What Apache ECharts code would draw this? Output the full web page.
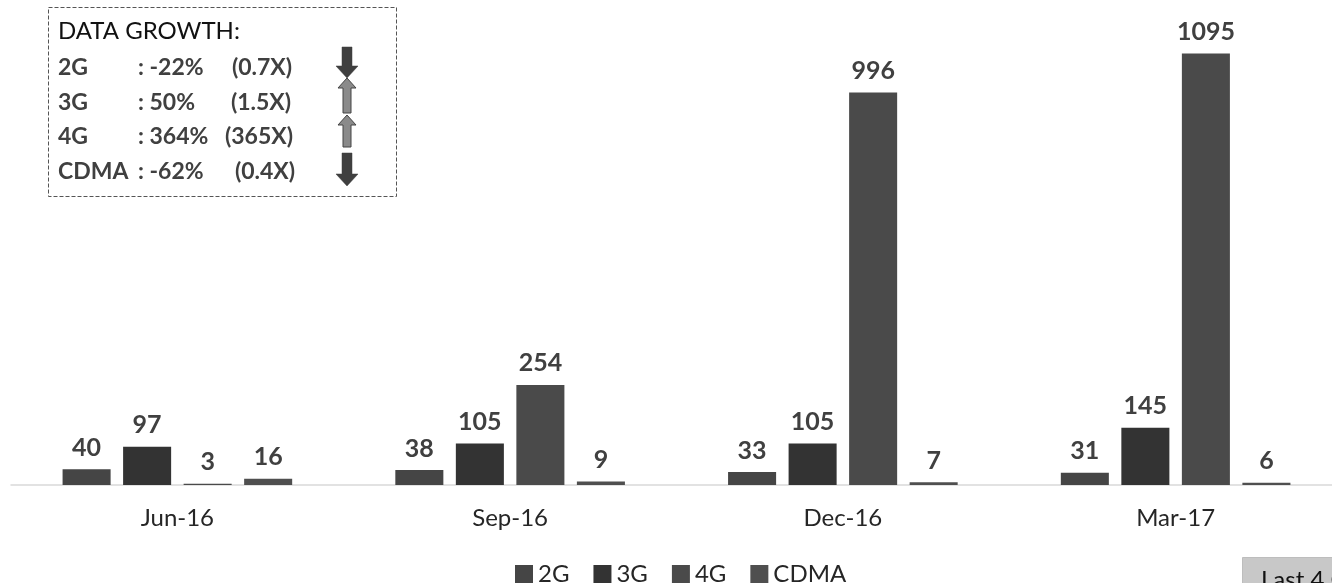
<!DOCTYPE html>
<html>
<head>
<meta charset="utf-8">
<script src="https://cdn.jsdelivr.net/npm/echarts@6/dist/echarts.min.js"></script>
<style>
html,body{margin:0;padding:0;background:#fff;}
#c{width:1332px;height:583px;}
</style>
</head>
<body>
<div id="c"></div>
<script>
var categories = ['Jun-16', 'Sep-16', 'Dec-16', 'Mar-17'];
var seriesNames = ['2G', '3G', '4G', 'CDMA'];
var values2G = [40, 38, 33, 31];
var values3G = [97, 105, 105, 145];
var values4G = [3, 254, 996, 1095];
var valuesCDMA = [16, 9, 7, 6];
var growthTitle = 'DATA GROWTH:';
var growthNames = ['2G', '3G', '4G', 'CDMA'];
var growthPct = [': -22%', ': 50%', ': 364%', ': -62%'];
var growthX = ['(0.7X)', '(1.5X)', '(365X)', '(0.4X)'];
var growthUp = [false, true, true, false];
var noteText = 'Last 4 Quarters';

// layout (not data)
var rowY = [68, 103, 137, 172];
var parenCenter = [262, 261, 259, 265];
var arrowSpans = [[47, 78], [78, 113], [115, 147], [153, 186]];

var colors = ['#454545', '#333333', '#4a4a4a', '#4f4f4f'];
var FONT = 'Lato, "Open Sans", sans-serif';
var allValues = [values2G, values3G, values4G, valuesCDMA];

var chart = echarts.init(document.getElementById('c'), null, {renderer: 'canvas'});

var series = seriesNames.map(function (n, i) {
  return {
    name: n,
    type: 'bar',
    data: allValues[i],
    barGap: '26%',
    barCategoryGap: '31%',
    itemStyle: {color: colors[i]},
    label: {
      show: true,
      position: 'top',
      distance: 9,
      fontFamily: FONT,
      fontWeight: 'bold',
      fontSize: 25,
      color: '#404040'
    }
  };
});

var graphics = [];
graphics.push({
  type: 'rect', left: 46, top: 5,
  shape: {width: 348, height: 189},
  style: {fill: 'none', stroke: '#555', lineWidth: 1, lineDash: [4, 2]}
});
graphics.push({
  type: 'text',
  style: {x: 58, y: 31, text: growthTitle, font: '24px ' + FONT, fill: '#111', verticalAlign: 'middle'}
});
growthNames.forEach(function (n, i) {
  graphics.push({
    type: 'text',
    style: {x: 58, y: rowY[i], text: n, font: 'bold 23px ' + FONT, fill: '#404040', verticalAlign: 'middle'}
  });
  graphics.push({
    type: 'text',
    style: {x: 138, y: rowY[i], text: growthPct[i], font: 'bold 23px ' + FONT, fill: '#404040', verticalAlign: 'middle'}
  });
  graphics.push({
    type: 'text',
    style: {x: parenCenter[i], y: rowY[i], text: growthX[i], font: 'bold 23px ' + FONT, fill: '#404040', verticalAlign: 'middle', align: 'center'}
  });
});
growthUp.forEach(function (up, i) {
  var cx = 347, y0 = arrowSpans[i][0], y1 = arrowSpans[i][1];
  var pts;
  if (!up) {
    var sw = 5, hw = 11, hh = 12;
    pts = [[cx - sw, y0], [cx + sw, y0], [cx + sw, y1 - hh], [cx + hw, y1 - hh], [cx, y1], [cx - hw, y1 - hh], [cx - sw, y1 - hh]];
    graphics.push({type: 'polygon', shape: {points: pts}, style: {fill: '#3f3f3f', stroke: '#3f3f3f', lineWidth: 0.5}});
  } else {
    var sw2 = 4, hw2 = 9, hh2 = 10;
    pts = [[cx, y0], [cx + hw2, y0 + hh2], [cx + sw2, y0 + hh2], [cx + sw2, y1], [cx - sw2, y1], [cx - sw2, y0 + hh2], [cx - hw2, y0 + hh2]];
    graphics.push({type: 'polygon', shape: {points: pts}, style: {fill: '#8a8a8a', stroke: '#444', lineWidth: 1}});
  }
});
graphics.push({
  type: 'rect', left: 1242, top: 557,
  shape: {width: 120, height: 40},
  style: {fill: '#c8c8c8', stroke: '#bdbdbd'}
});
graphics.push({
  type: 'text',
  style: {x: 1261, y: 580, text: noteText, font: '24px ' + FONT, fill: '#111', verticalAlign: 'middle'}
});

chart.setOption({
  animation: false,
  backgroundColor: '#fff',
  color: colors,
  grid: {left: 11, top: 12, width: 1331, height: 473, containLabel: false, outerBoundsMode: 'none'},
  legend: {
    data: seriesNames,
    left: 510,
    top: 557,
    icon: 'rect',
    itemWidth: 18,
    itemHeight: 18,
    itemGap: 24,
    textStyle: {fontFamily: FONT, fontSize: 24, color: '#262626'}
  },
  xAxis: {
    type: 'category',
    data: categories,
    axisTick: {show: false},
    axisLine: {lineStyle: {color: '#d9d9d9', width: 1.5}},
    axisLabel: {fontFamily: FONT, fontSize: 24, color: '#262626', margin: 21}
  },
  yAxis: {
    type: 'value',
    min: 0,
    max: 1200,
    show: false,
    splitLine: {show: false}
  },
  series: series,
  graphic: graphics
});
</script>
</body>
</html>
